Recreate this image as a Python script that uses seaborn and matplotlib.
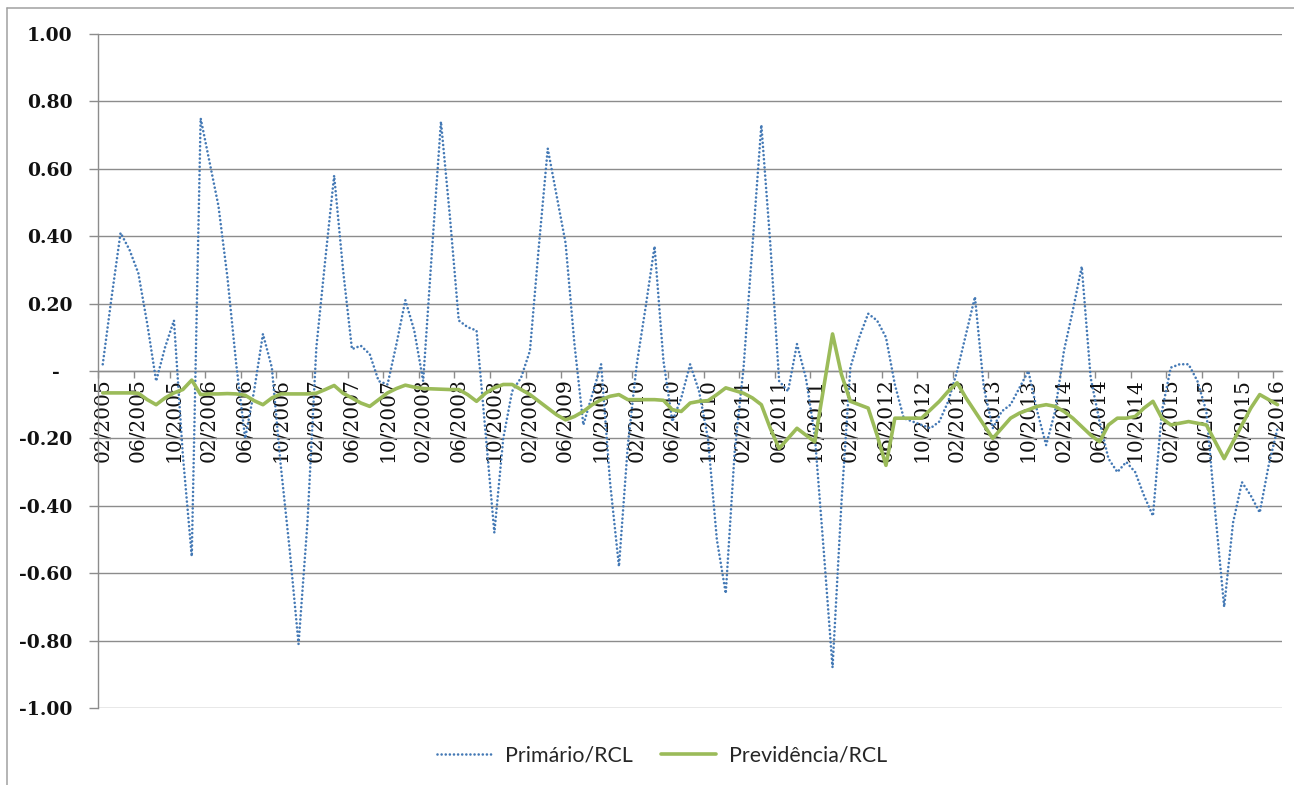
import numpy as np
import pandas as pd
import matplotlib
matplotlib.use("Agg")
import matplotlib.pyplot as plt
from matplotlib.lines import Line2D
from matplotlib.ticker import FixedLocator, FixedFormatter
import seaborn as sns

# Monthly categories, 02/2005 .. 02/2016
months = pd.period_range("2005-02", "2016-02", freq="M").strftime("%m/%Y").tolist()

# Primário/RCL (one row per Feb..Jan year)
primario = [
    0.02, 0.22, 0.41, 0.36, 0.29, 0.14, -0.03, 0.07, 0.15, -0.25, -0.55, 0.75,
    0.62, 0.49, 0.28, 0.02, -0.20, -0.06, 0.11, 0.01, -0.28, -0.53, -0.81, -0.45,
    0.07, 0.33, 0.58, 0.30, 0.065, 0.075, 0.05, -0.03, -0.04, 0.08, 0.21, 0.12,
    -0.03, 0.36, 0.74, 0.46, 0.15, 0.13, 0.12, -0.18, -0.48, -0.20, -0.06, -0.02,
    0.06, 0.37, 0.66, 0.52, 0.38, 0.08, -0.16, -0.07, 0.02, -0.33, -0.58, -0.22,
    0.02, 0.19, 0.37, 0.03, -0.15, -0.08, 0.02, -0.06, -0.20, -0.50, -0.66, -0.24,
    0.01, 0.37, 0.73, 0.38, -0.03, -0.06, 0.08, -0.02, -0.19, -0.53, -0.88, -0.39,
    0.01, 0.10, 0.17, 0.15, 0.10, -0.04, -0.14, -0.15, -0.16, -0.17, -0.15, -0.09,
    0.00, 0.11, 0.22, -0.05, -0.17, -0.12, -0.10, -0.05, 0.00, -0.12, -0.22, -0.12,
    0.06, 0.18, 0.31, -0.02, -0.15, -0.26, -0.30, -0.27, -0.30, -0.37, -0.43, -0.12,
    0.01, 0.02, 0.02, -0.03, -0.12, -0.42, -0.70, -0.45, -0.33, -0.37, -0.42, -0.28,
    -0.17,
]

# Previdência/RCL
previdencia = [
    -0.065, -0.065, -0.065, -0.065, -0.066, -0.085, -0.10, -0.08, -0.065, -0.055, -0.027, -0.07,
    -0.068, -0.068, -0.067, -0.068, -0.072, -0.088, -0.10, -0.08, -0.068, -0.068, -0.068, -0.068,
    -0.066, -0.055, -0.043, -0.066, -0.08, -0.095, -0.105, -0.085, -0.065, -0.052, -0.042, -0.048,
    -0.052, -0.053, -0.054, -0.055, -0.055, -0.07, -0.09, -0.066, -0.05, -0.04, -0.04, -0.055,
    -0.07, -0.09, -0.11, -0.13, -0.145, -0.135, -0.12, -0.10, -0.085, -0.075, -0.07, -0.085,
    -0.085, -0.085, -0.085, -0.087, -0.115, -0.12, -0.095, -0.09, -0.088, -0.07, -0.05, -0.058,
    -0.066, -0.08, -0.10, -0.17, -0.23, -0.20, -0.17, -0.19, -0.21, -0.05, 0.11, -0.01,
    -0.09, -0.10, -0.11, -0.19, -0.28, -0.14, -0.14, -0.14, -0.14, -0.115, -0.09, -0.06,
    -0.035, -0.08, -0.12, -0.16, -0.20, -0.17, -0.14, -0.125, -0.115, -0.105, -0.10, -0.105,
    -0.12, -0.14, -0.165, -0.19, -0.21, -0.16, -0.14, -0.14, -0.135, -0.11, -0.09, -0.14,
    -0.16, -0.155, -0.15, -0.155, -0.16, -0.21, -0.26, -0.21, -0.16, -0.11, -0.07, -0.085,
    -0.10,
]

series_names = ["Primário/RCL", "Previdência/RCL"]

ytick_values = [-1.0, -0.8, -0.6, -0.4, -0.2, 0.0, 0.2, 0.4, 0.6, 0.8, 1.0]
ytick_labels = ["-1.00", "-0.80", "-0.60", "-0.40", "-0.20", "-  ",
                "0.20", "0.40", "0.60", "0.80", "1.00"]

label_step = 4
xtick_labels = months[::label_step]

BLUE = "#4479B5"
GREEN = "#9BBB59"
GRID = "#8C8C8C"
FRAME = "#A0A0A0"
TEXT = "#111111"
DOT_LW = 1.9
DOTS = (0, (0.01, 1.55))

sns.set_style("white")
plt.rcParams["axes.unicode_minus"] = False

df = pd.DataFrame({
    "pos": np.arange(len(months)),
    "mes": months,
    series_names[0]: primario,
    series_names[1]: previdencia,
})

W, H = 1294, 785
fig = plt.figure(figsize=(W / 100, H / 100), dpi=100)
fig.patch.set_facecolor("white")
ax = fig.add_axes([98.3 / W, 77 / H, (1282 - 98.3) / W, 674 / H])

sns.lineplot(data=df, x="pos", y=series_names[0], ax=ax, color=BLUE, lw=DOT_LW,
             linestyle=DOTS, dash_capstyle="round", zorder=3)
sns.lineplot(data=df, x="pos", y=series_names[1], ax=ax, color=GREEN, lw=2.6,
             solid_joinstyle="round", zorder=4)
if ax.get_legend() is not None:
    ax.get_legend().remove()

n = len(months)
ax.set_xlim(-0.5, n - 0.5)
ax.set_ylim(-1, 1)
ax.set_xlabel("")
ax.set_ylabel("")

# category labels centred on every 4th month, tick marks on the boundaries
ax.xaxis.set_major_locator(FixedLocator(np.arange(0, n, label_step)))
ax.xaxis.set_major_formatter(FixedFormatter(xtick_labels))
ax.xaxis.set_minor_locator(FixedLocator(np.arange(-0.5, n, label_step)))
ax.tick_params(axis="x", which="major", length=0, pad=5, labelrotation=90,
               labelsize=14.5, labelfontfamily="DejaVu Serif", labelcolor=TEXT)
ax.tick_params(axis="x", which="minor", length=5, width=1.0, color=GRID,
               direction="out", bottom=True)

ax.yaxis.set_major_locator(FixedLocator(ytick_values))
ax.yaxis.set_major_formatter(FixedFormatter(ytick_labels))
ax.tick_params(axis="y", length=6.5, width=1.0, color=GRID, pad=12,
               direction="out", left=True, labelsize=13.5,
               labelfontfamily="DejaVu Serif", labelcolor=TEXT)
for lab in ax.get_yticklabels():
    lab.set_fontweight("bold")

ax.grid(axis="y", color=GRID, lw=1.0)
ax.grid(axis="x", visible=False)
ax.set_axisbelow(True)

for side in ("top", "right"):
    ax.spines[side].set_visible(False)
ax.spines["bottom"].set_position(("data", 0))
ax.spines["bottom"].set_color(GRID)
ax.spines["bottom"].set_linewidth(1.0)
ax.spines["left"].set_color(GRID)
ax.spines["left"].set_linewidth(1.0)

# legend below the plot
handles = [
    Line2D([], [], color=BLUE, lw=DOT_LW, linestyle=DOTS, dash_capstyle="round"),
    Line2D([], [], color=GREEN, lw=2.6),
]
fig.legend(handles, series_names, loc="center",
           bbox_to_anchor=(662 / W, 1 - 755 / H), ncol=2, frameon=False,
           prop={"family": "Lato", "size": 15.4}, handlelength=2.6,
           handletextpad=0.6, columnspacing=1.3)

# chart-area border (left and top edges)
fig.add_artist(Line2D([7.3 / W, 7.3 / W], [0, 1 - 8.3 / H],
                      transform=fig.transFigure, color=FRAME, lw=1.1))
fig.add_artist(Line2D([7.3 / W, 1], [1 - 8.3 / H, 1 - 8.3 / H],
                      transform=fig.transFigure, color=FRAME, lw=1.1))

fig.savefig("out.png", dpi=100, facecolor="white")
